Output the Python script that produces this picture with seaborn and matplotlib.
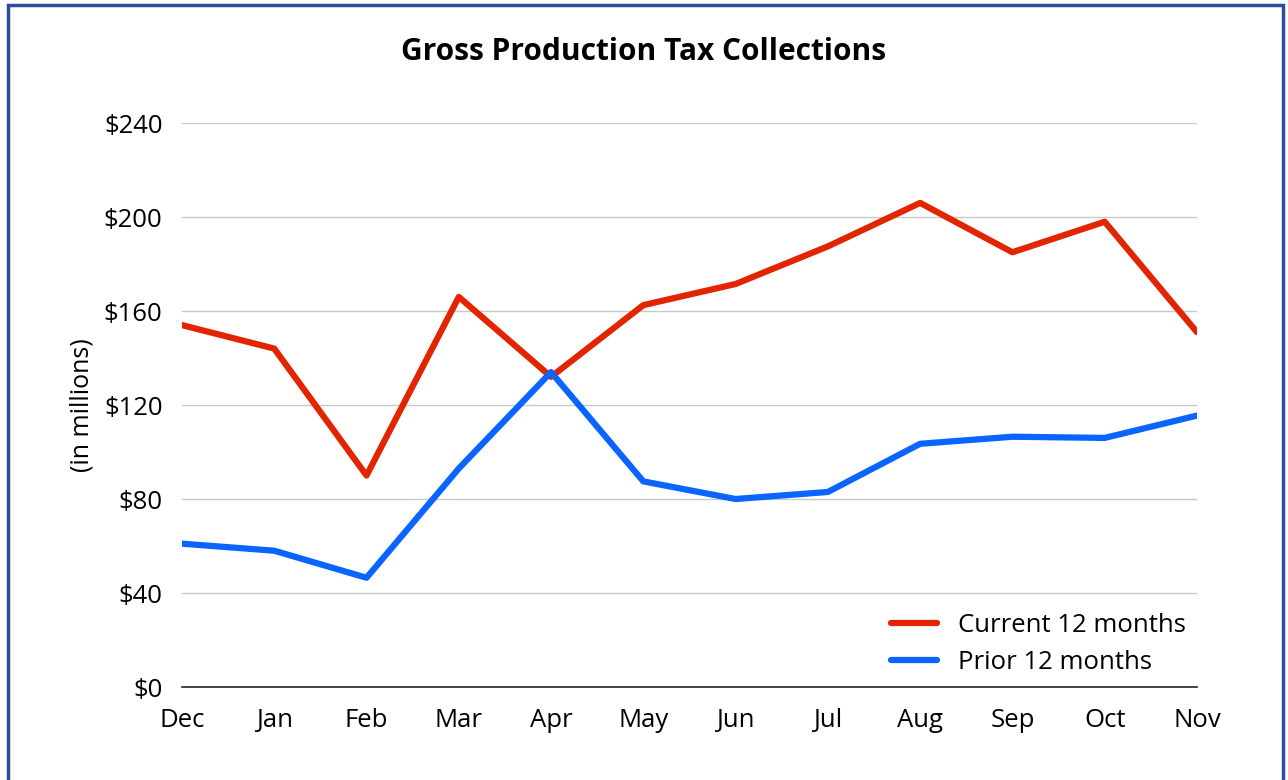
import pandas as pd
import numpy as np

import matplotlib.pyplot as plt
import seaborn as sns
from matplotlib.patches import Rectangle

# values (in millions of dollars)
months = ['Dec', 'Jan', 'Feb', 'Mar', 'Apr', 'May', 'Jun', 'Jul', 'Aug', 'Sep', 'Oct', 'Nov']
current = [154, 144, 90, 166, 132, 162.5, 171.5, 187.5, 206, 185, 198, 151]
prior = [61, 58, 46.5, 93, 134, 87.5, 80, 83, 103.5, 106.5, 106, 115.5]
y_ticks = [0, 40, 80, 120, 160, 200, 240]

df = pd.DataFrame({'month': months * 2,
                   'value': current + prior,
                   'series': ['Current 12 months'] * 12 + ['Prior 12 months'] * 12})
df['pos'] = list(range(12)) * 2

sns.set_style('white')
plt.rcParams['font.family'] = ['Open Sans', 'DejaVu Sans']
plt.rcParams['text.color'] = 'black'
plt.rcParams['xtick.color'] = 'black'
plt.rcParams['ytick.color'] = 'black'
plt.rcParams['axes.labelcolor'] = 'black'

fig = plt.figure(figsize=(12.88, 7.8), dpi=100)
ax = fig.add_axes([0.1413, 0.1192, 0.788, 0.7231])

sns.lineplot(data=df, x='pos', y='value', hue='series',
             palette={'Current 12 months': '#E32400', 'Prior 12 months': '#0A64FF'},
             linewidth=4.5, ax=ax)

ax.set_xlim(0, 11)
ax.set_ylim(0, 240)
ax.set_xticks(range(12))
ax.set_xticklabels(months, fontsize=18.5)
ax.set_yticks(y_ticks)
ax.set_yticklabels(['$' + str(v) for v in y_ticks], fontsize=18.5)
ax.tick_params(axis='both', length=0)
ax.tick_params(axis='x', pad=15)
ax.tick_params(axis='y', pad=14)
ax.grid(axis='y', color='#C8C8C8', linewidth=1)
ax.set_axisbelow(True)
for s in ['left', 'right', 'top']:
    ax.spines[s].set_visible(False)
ax.spines['bottom'].set_color('#222222')
ax.spines['bottom'].set_linewidth(1.2)

ax.set_xlabel('')
ax.set_ylabel('(in millions)', fontsize=18)
ax.yaxis.set_label_coords(-0.086, 0.5)

fig.text(0.5, 0.933, 'Gross Production Tax Collections', ha='center', va='center',
         fontsize=21.5, fontweight='bold')

ax.legend(loc='lower right', frameon=False, fontsize=18.5, handlelength=1.8,
          bbox_to_anchor=(1.0, 0.0), borderaxespad=0.05, labelspacing=0.5)

fig.patches.append(Rectangle((0.006, -0.05), 0.99, 1.044, transform=fig.transFigure,
                             fill=False, edgecolor='#2F4A9E', linewidth=2.5))

fig.savefig('out.png', dpi=100)
